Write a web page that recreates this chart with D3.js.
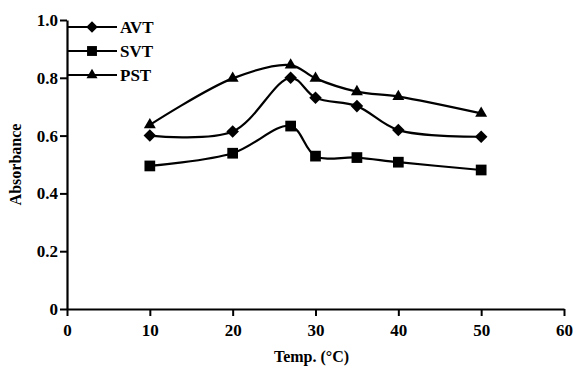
<!DOCTYPE html>
<html>
<head>
<meta charset="utf-8">
<script src="https://cdn.jsdelivr.net/npm/d3@7"></script>
<style>
  body { margin: 0; background: #fff; }
  svg text { font-family: "Liberation Serif", "Times New Roman", serif; font-weight: bold; fill: #000; }
</style>
</head>
<body>
<div id="wrapper"></div>
<script>
// DATA
const temps = [10, 20, 27, 30, 35, 40, 50];
const avt = [0.60, 0.614, 0.80, 0.731, 0.702, 0.619, 0.596];
const svt = [0.495, 0.539, 0.633, 0.529, 0.524, 0.508, 0.481];
const pst = [0.637, 0.798, 0.844, 0.798, 0.752, 0.735, 0.677];
const seriesNames = ["AVT", "SVT", "PST"];
const xTicks = [0, 10, 20, 30, 40, 50, 60];
const yTicks = [0, 0.2, 0.4, 0.6, 0.8, 1.0];

function drawChart() {
  const dimensions = {
    width: 579,
    height: 369,
    margin: { top: 20, right: 15, bottom: 60, left: 67 }
  };
  dimensions.boundedWidth = dimensions.width - dimensions.margin.left - dimensions.margin.right;
  dimensions.boundedHeight = dimensions.height - dimensions.margin.top - dimensions.margin.bottom;

  const wrapper = d3.select("#wrapper")
    .append("svg")
    .attr("width", dimensions.width)
    .attr("height", dimensions.height);

  const bounds = wrapper.append("g")
    .attr("transform", `translate(${dimensions.margin.left},${dimensions.margin.top})`);

  // SCALES
  const xScale = d3.scaleLinear().domain([0, 60]).range([0, 497]);
  const yScale = d3.scaleLinear().domain([0, 1]).range([dimensions.boundedHeight, 0]);

  // AXES
  const xAxis = bounds.append("g")
    .attr("transform", `translate(0,${dimensions.boundedHeight})`)
    .call(d3.axisBottom(xScale).tickValues(xTicks).tickFormat(d3.format("d")).tickSize(7).tickSizeOuter(0));
  const yAxis = bounds.append("g")
    .call(d3.axisLeft(yScale).tickValues(yTicks)
      .tickFormat(d => d === 0 ? "0" : d3.format(".1f")(d)).tickSize(7).tickSizeOuter(0));

  [xAxis, yAxis].forEach(ax => {
    ax.select(".domain").attr("stroke-width", 2.2);
    ax.selectAll(".tick line").attr("stroke-width", 2);
    ax.selectAll("text").style("font-size", "17px");
  });
  xAxis.selectAll("text").attr("dy", "1.0em");
  yAxis.selectAll("text").attr("x", -9);

  // DRAW DATA
  const line = d3.line()
    .x(d => xScale(d[0]))
    .y(d => yScale(d[1]))
    .curve(d3.curveCatmullRom.alpha(0.5));

  const symbols = [d3.symbolDiamond2, d3.symbolSquare, d3.symbolTriangle];
  const sizes = [100, 115, 62];
  const allSeries = [avt, svt, pst];

  allSeries.forEach((vals, i) => {
    const pts = temps.map((t, j) => [t, vals[j]]);
    bounds.append("path")
      .attr("d", line(pts))
      .attr("fill", "none")
      .attr("stroke", "#000")
      .attr("stroke-width", 2.2);
    bounds.selectAll(".m" + i)
      .data(pts)
      .enter().append("path")
      .attr("class", "m" + i)
      .attr("transform", d => `translate(${xScale(d[0])},${yScale(d[1])})`)
      .attr("d", d3.symbol(symbols[i], sizes[i]))
      .attr("fill", "#000");
  });

  // LEGEND
  const legend = bounds.append("g");
  const legendY = [7, 31, 55];
  seriesNames.forEach((name, i) => {
    const g = legend.append("g").attr("transform", `translate(0,${legendY[i]})`);
    g.append("line").attr("x1", 0).attr("x2", 50).attr("stroke", "#000").attr("stroke-width", 2.2);
    g.append("path").attr("transform", "translate(25,0)")
      .attr("d", d3.symbol(symbols[i], sizes[i] * 0.85)).attr("fill", "#000");
    g.append("text").attr("x", 53).attr("dy", "0.35em").style("font-size", "17px").text(name);
  });

  // LABELS
  wrapper.append("text")
    .attr("x", dimensions.margin.left + xScale(30) - 4)
    .attr("y", 362)
    .attr("text-anchor", "middle")
    .style("font-size", "16px")
    .text("Temp. (°C)");

  wrapper.append("text")
    .attr("transform", `translate(21,${dimensions.margin.top + yScale(0.5)}) rotate(-90)`)
    .attr("text-anchor", "middle")
    .style("font-size", "16px")
    .text("Absorbance");
}
drawChart();
</script>
</body>
</html>
